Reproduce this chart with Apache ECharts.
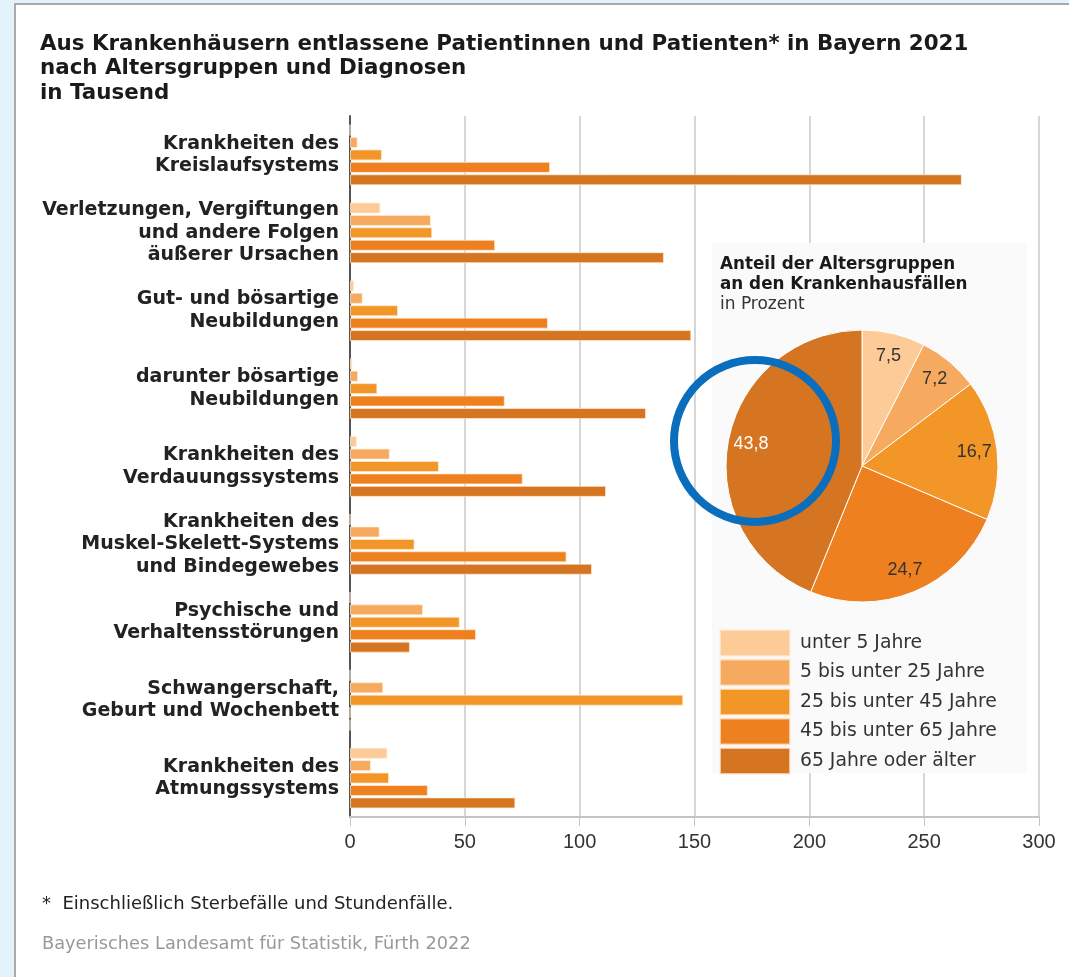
<!DOCTYPE html>
<html>
<head>
<meta charset="utf-8">
<script src="https://cdn.jsdelivr.net/npm/echarts@6/dist/echarts.min.js"></script>
<style>
  html, body { margin: 0; padding: 0; }
  #chart { width: 1069px; height: 977px; }
</style>
</head>
<body>
<div id="chart"></div>
<script>
// Diagnosen (Reihenfolge von oben nach unten)
let diagnosen = [
    'Krankheiten des\nKreislaufsystems',
    'Verletzungen, Vergiftungen\nund andere Folgen\näußerer Ursachen',
    'Gut- und bösartige\nNeubildungen',
    'darunter bösartige\nNeubildungen',
    'Krankheiten des\nVerdauungssystems',
    'Krankheiten des\nMuskel-Skelett-Systems\nund Bindegewebes',
    'Psychische und\nVerhaltensstörungen',
    'Schwangerschaft,\nGeburt und Wochenbett',
    'Krankheiten des\nAtmungssystems'
];

let altersgruppen = ['unter 5 Jahre', '5 bis unter 25 Jahre', '25 bis unter 45 Jahre', '45 bis unter 65 Jahre', '65 Jahre oder älter'];
let farben = ['#fccb97', '#f5aa5f', '#f29628', '#ee801f', '#d57522'];

// Werte in Tausend, je Altersgruppe
let unter5   = [0,    13.2, 1.7,   1.0,   3.0,   0,     0,    0,     16.3];
let bis25    = [3.3,  35.2, 5.5,   3.5,  17.3,  12.9,  31.8, 14.5,    9.1];
let bis45    = [13.9, 35.8, 20.9, 11.9,  38.7,  28.1,  47.8, 145.1,  17.0];
let bis65    = [87.1, 63.2, 86.2, 67.4,  75.2,  94.3,  54.9, 0,      33.9];
let ab65     = [266.4, 136.7, 148.6, 128.9, 111.5, 105.4, 26.1, 0,   72.0];

// Anteil der Altersgruppen in Prozent
let anteile = [7.5, 7.2, 16.7, 24.7, 43.8];

let achsenTicks = [0, 50, 100, 150, 200, 250, 300];

let werte = [unter5, bis25, bis45, bis65, ab65];

let schrift = 'DejaVu Sans, Liberation Sans, sans-serif';

let myChart = echarts.init(document.getElementById('chart'));

let barSeries = [];
for (let i = 0; i < altersgruppen.length; i++) {
    barSeries.push({
        name: altersgruppen[i],
        type: 'bar',
        data: werte[i],
        barWidth: 11,
        barGap: '13%',
        itemStyle: {
            color: farben[i],
            borderColor: 'rgba(255,235,215,0.7)',
            borderWidth: 1
        },
        z: 3
    });
}

let pieData = [];
for (let i = 0; i < anteile.length; i++) {
    pieData.push({ name: altersgruppen[i], value: anteile[i], itemStyle: { color: farben[i] } });
}

// Beschriftungsring: gleiche Werte, nur für die Lage der Zahlen
let labelData = [];
for (let i = 0; i < anteile.length; i++) {
    labelData.push({
        name: altersgruppen[i],
        value: anteile[i],
        label: { color: i === 4 ? '#ffffff' : '#333333' }
    });
}

let option = {
    backgroundColor: '#e4f2fc',
    animation: false,
    textStyle: { fontFamily: 'Liberation Sans, Arial, sans-serif' },
    title: [{
        text: 'Aus Krankenhäusern entlassene Patientinnen und Patienten* in Bayern 2021\nnach Altersgruppen und Diagnosen\nin Tausend',
        left: 40,
        top: 32,
        padding: 0,
        textStyle: { fontFamily: schrift, fontSize: 21.4, fontWeight: 'bold', color: '#1a1a1a', lineHeight: 24.5 }
    }, {
        text: 'Anteil der Altersgruppen\nan den Krankenhausfällen',
        subtext: 'in Prozent',
        left: 720,
        top: 255,
        padding: 0,
        itemGap: 0,
        textStyle: { fontFamily: schrift, fontSize: 16.8, fontWeight: 'bold', color: '#1a1a1a', lineHeight: 20 },
        subtextStyle: { fontFamily: schrift, fontSize: 17, color: '#333', lineHeight: 20 }
    }],
    legend: {
        data: altersgruppen,
        orient: 'vertical',
        left: 719,
        top: 629,
        padding: 0,
        itemWidth: 70,
        itemHeight: 26,
        itemGap: 1.5,
        icon: 'rect',
        selectedMode: false,
        textStyle: { fontFamily: schrift, fontSize: 18.8, color: '#333', padding: [0, 0, 0, 5] }
    },
    grid: {
        left: 350,
        right: 30,
        top: 116,
        bottom: 160
    },
    xAxis: {
        type: 'value',
        min: achsenTicks[0],
        max: achsenTicks[achsenTicks.length - 1],
        interval: 50,
        axisLine: { show: true, lineStyle: { color: '#c4c4c4', width: 2 } },
        axisTick: { show: true, length: 9, lineStyle: { color: '#c4c4c4' } },
        splitLine: { show: true, lineStyle: { color: '#c8c8c8', width: 1.5 } },
        axisLabel: { fontSize: 20, color: '#333', margin: 15 }
    },
    yAxis: {
        type: 'category',
        data: diagnosen,
        inverse: true,
        axisLine: { show: true, lineStyle: { color: '#555', width: 2 } },
        axisTick: { show: false },
        axisLabel: {
            fontFamily: schrift,
            fontSize: 19,
            fontWeight: 'bold',
            color: '#222',
            lineHeight: 22.5,
            margin: 11,
            align: 'right'
        }
    },
    series: barSeries.concat([{
        name: 'Anteil',
        type: 'pie',
        center: [862, 466],
        radius: [0, 136],
        startAngle: 90,
        clockwise: true,
        data: pieData,
        label: { show: false },
        labelLine: { show: false },
        itemStyle: { borderColor: '#ffffff', borderWidth: 1 },
        silent: true,
        z: 4
    }, {
        name: 'Beschriftung',
        type: 'pie',
        center: [862, 466],
        radius: [84, 136],
        startAngle: 90,
        clockwise: true,
        data: labelData,
        itemStyle: { color: 'rgba(0,0,0,0)' },
        label: {
            show: true,
            position: 'inside',
            fontSize: 18,
            formatter: function (p) { return String(p.value).replace('.', ','); }
        },
        labelLine: { show: false },
        silent: true,
        z: 5
    }]),
    graphic: [{
        type: 'rect',
        shape: { x: 15, y: 4, width: 1100, height: 1000 },
        style: { fill: '#ffffff', stroke: '#a9a9a9', lineWidth: 2 },
        z: -10,
        silent: true
    }, {
        type: 'rect',
        shape: { x: 712, y: 243, width: 315, height: 530 },
        style: { fill: '#fafafa' },
        z: 1,
        silent: true
    }, {
        type: 'text',
        left: 42,
        top: 895,
        style: { text: '*  Einschließlich Sterbefälle und Stundenfälle.', fontSize: 18, fill: '#222', fontFamily: schrift },
        silent: true
    }, {
        type: 'text',
        left: 42,
        top: 935,
        style: { text: 'Bayerisches Landesamt für Statistik, Fürth 2022', fontSize: 17.8, fill: '#999', fontFamily: schrift },
        silent: true
    }, {
        type: 'circle',
        shape: { cx: 755, cy: 441, r: 81 },
        style: { fill: 'none', stroke: '#0a6ebd', lineWidth: 8 },
        z: 20,
        silent: true
    }]
};

myChart.setOption(option);
</script>
</body>
</html>
